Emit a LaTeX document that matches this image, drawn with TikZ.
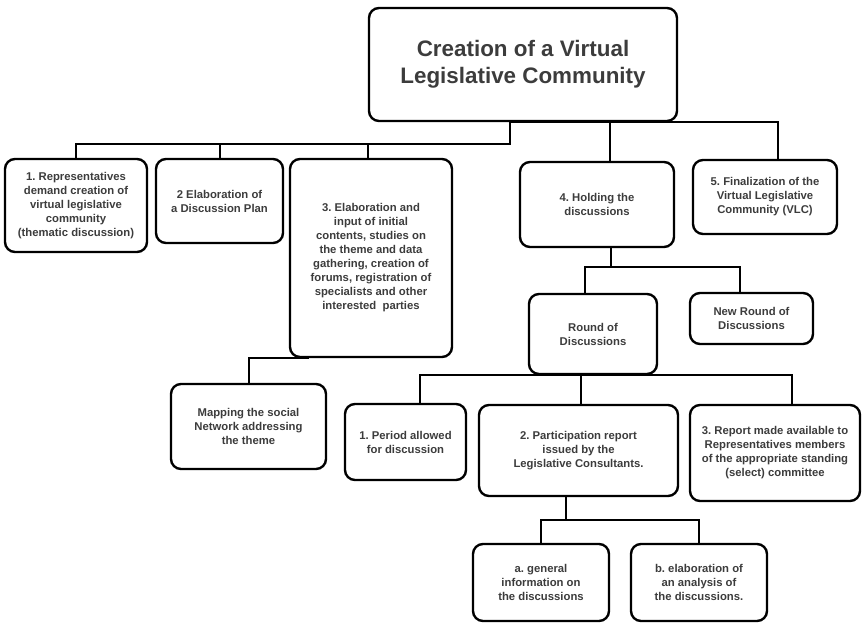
\documentclass[tikz,border=0pt]{standalone}
\usepackage{fontspec}
\setmainfont{Liberation Sans}
\frenchspacing
\definecolor{txt}{HTML}{3C3C3C}
\begin{document}
\begin{tikzpicture}[x=1pt,y=-1pt,
  bx/.style={draw=black, line width=2.4pt, rounded corners=10pt, align=center,
    text=txt, font=\bfseries\fontsize{11.3}{14}\selectfont, inner sep=0pt},
  ttl/.style={bx, font=\bfseries\fontsize{22.4}{27}\selectfont},
  ln/.style={line width=2pt}]
\useasboundingbox (0,0) rectangle (863,623);

\node[ttl, minimum width=308pt, minimum height=113pt] (top) at (523,64.5) {Creation of a Virtual\\Legislative Community};

\node[bx, minimum width=142pt, minimum height=93pt] (b1) at (76,205.5) {1. Representatives\\demand creation of\\virtual legislative\\community\\(thematic discussion)};
\node[bx, minimum width=127pt, minimum height=84pt] (b2) at (219.5,201) {2 Elaboration of\\a Discussion Plan};
\node[bx, minimum width=162pt, minimum height=198pt] (b3) at (371,258) {3. Elaboration and\\input of initial\\contents, studies on\\the theme and data\\gathering, creation of\\forums, registration of\\specialists and other\\interested\ \ parties};
\node[bx, minimum width=154pt, minimum height=85pt] (b4) at (597,204.5) {4. Holding the\\discussions};
\node[bx, minimum width=144pt, minimum height=74pt] (b5) at (765,197) {5. Finalization of the\\Virtual Legislative\\Community (VLC)};

\node[bx, minimum width=128pt, minimum height=80pt] (round) at (593,334) {Round of\\Discussions};
\node[bx, minimum width=123pt, minimum height=51pt] (newround) at (751.5,318.5) {New Round of\\Discussions};

\node[bx, minimum width=155pt, minimum height=85pt] (map) at (248.5,426.5) {Mapping the social\\Network addressing\\the theme};

\node[bx, minimum width=121pt, minimum height=76pt] (period) at (405.5,442) {1. Period allowed\\for discussion};
\node[bx, minimum width=199pt, minimum height=91pt] (part) at (578.5,450.5) {2. Participation report\\issued by the\\Legislative Consultants.};
\node[bx, minimum width=170pt, minimum height=96pt] (report) at (775,453) {3. Report made available to\\Representatives members\\of the appropriate standing\\(select) committee};

\node[bx, minimum width=136pt, minimum height=77pt] (na) at (541,582.5) {a. general\\information on\\the discussions};
\node[bx, minimum width=136pt, minimum height=77pt] (nb) at (699,582.5) {b. elaboration of\\an analysis of\\the discussions.};

% top level connectors
\draw[ln] ([xshift=-13pt]top.south) -| ([xshift=13pt]b5.north);
\draw[ln] ([xshift=13pt]b4.north) -- ([xshift=13pt]b4.north |- top.south);
\draw[ln] ([xshift=-13pt]top.south) -- ++(0,22) coordinate (r1) -| (b1.north);
\draw[ln] (b2.north) -- (b2.north |- r1);
\draw[ln] ([xshift=-3pt]b3.north) -- ([xshift=-3pt]b3.north |- r1);

% box 3 to mapping
\draw[ln] (map.north) |- ([xshift=20pt]b3.south west);

% holding -> rounds
\draw[ln] ([xshift=14pt]b4.south) -- ++(0,19) coordinate (r2);
\draw[ln] ([xshift=-8pt]round.north) |- (r2) -| ([xshift=-12pt]newround.north);

% round -> three
\draw[ln] ([xshift=14.5pt]period.north) -- ([xshift=14.5pt]period.north |- round.south) -| ([xshift=17pt]report.north);
\draw[ln] ([xshift=2.5pt]part.north) -- ([xshift=2.5pt]part.north |- round.south);

% participation -> a, b
\draw[ln] ([xshift=-12.5pt]part.south) -- ++(0,23) coordinate (r4);
\draw[ln] (na.north) |- (r4) -| (nb.north);
\end{tikzpicture}
\end{document}
